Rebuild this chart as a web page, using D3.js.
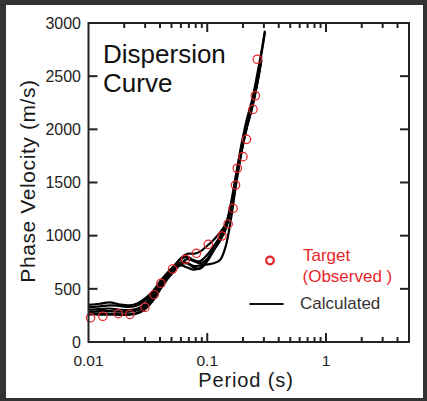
<!DOCTYPE html>
<html>
<head>
<meta charset="utf-8">
<script src="https://cdn.jsdelivr.net/npm/d3@7"></script>
<style>
  html, body { margin: 0; padding: 0; background: #333; }
  svg { display: block; }
</style>
</head>
<body>
<svg id="chart" width="427" height="401"></svg>
<script>
// Period grid shared by the calculated dispersion curves (s)
const periods = [0.01, 0.0125, 0.015, 0.018, 0.022, 0.026, 0.03, 0.035, 0.04, 0.046, 0.053, 0.06, 0.068, 0.077, 0.087, 0.1, 0.113, 0.128, 0.143, 0.158, 0.175, 0.195, 0.215, 0.24, 0.265, 0.285, 0.305];

// Calculated phase velocities (m/s), one array per model
const calcA = [350, 360, 372, 355, 345, 365, 410, 480, 570, 650, 720, 790, 830, 830, 850, 905, 960, 1030, 1110, 1300, 1580, 1870, 2090, 2290, 2530, 2720, 2920];
const calcB = [330, 335, 345, 340, 330, 345, 390, 460, 550, 640, 720, 780, 800, 770, 760, 820, 900, 990, 1090, 1280, 1560, 1850, 2060, 2260, 2500, 2700, 2900];
const calcC = [305, 310, 315, 305, 300, 315, 360, 440, 530, 620, 700, 750, 740, 700, 690, 760, 860, 970, 1070, 1260, 1540, 1820, 2040, 2240, 2480, 2680];
const calcD = [285, 290, 290, 285, 285, 300, 340, 420, 510, 610, 690, 720, 700, 680, 700, 780, 880, 980, 1080, 1270, 1530, 1810, 2030, 2230, 2460, 2660];
const calcE = [270, 268, 265, 262, 260, 275, 320, 400, 500, 600, 680, 730, 740, 715, 720, 730, 740, 770, 900, 1150, 1480, 1790, 2010, 2210, 2440, 2640];
const calcF = [260, 258, 257, 255, 256, 270, 310, 390, 490, 590, 670, 740, 780, 760, 740, 780, 860, 950, 1060, 1250, 1520, 1800, 2020, 2220, 2450, 2650];
const calculatedCurves = [calcA, calcB, calcC, calcD, calcE, calcF];

// Observed (target) dispersion points
const targetPeriods = [0.0104, 0.0132, 0.0178, 0.0223, 0.0299, 0.0357, 0.0407, 0.051, 0.0656, 0.081, 0.102, 0.133, 0.150, 0.165, 0.173, 0.179, 0.200, 0.214, 0.243, 0.254, 0.264];
const targetVelocities = [228, 242, 266, 260, 326, 445, 552, 686, 778, 834, 919, 997, 1110, 1257, 1476, 1634, 1743, 1906, 2188, 2316, 2659];

// Axis ticks
const yTickValues = [0, 500, 1000, 1500, 2000, 2500, 3000];
const xTickLabels = [0.01, 0.1, 1];
const xMinorTicks = [0.02, 0.03, 0.04, 0.05, 0.06, 0.07, 0.08, 0.09, 0.2, 0.3, 0.4, 0.5, 0.6, 0.7, 0.8, 0.9, 2, 3, 4];

const FONT = "'Liberation Sans', Arial, Helvetica, sans-serif";
const svg = d3.select("#chart");

// white panel
svg.append("rect").attr("x", 6).attr("y", 5).attr("width", 417).attr("height", 393).attr("fill", "#fff");

const plot = { left: 88.5, right: 409, top: 23, bottom: 342 };
const x = d3.scaleLog().domain([0.01, 5]).range([plot.left, plot.right]);
const y = d3.scaleLinear().domain([0, 3000]).range([plot.bottom, plot.top]);

svg.append("clipPath").attr("id", "plotClip")
  .append("rect").attr("x", plot.left).attr("y", plot.top)
  .attr("width", plot.right - plot.left).attr("height", plot.bottom - plot.top);

// calculated curves
const line = d3.line()
  .x((d, i) => x(periods[i]))
  .y(d => y(d))
  .curve(d3.curveCatmullRom.alpha(0.5));

svg.append("g").attr("clip-path", "url(#plotClip)")
  .selectAll("path").data(calculatedCurves).join("path")
  .attr("d", d => line(d))
  .attr("fill", "none").attr("stroke", "#000")
  .attr("stroke-width", 2.2).attr("stroke-linejoin", "round").attr("stroke-linecap", "round");

// observed points
svg.append("g").selectAll("circle").data(targetPeriods).join("circle")
  .attr("cx", d => x(d))
  .attr("cy", (d, i) => y(targetVelocities[i]))
  .attr("r", 4.2)
  .attr("fill", "none").attr("stroke", "#e8262a").attr("stroke-width", 1.2);

// frame and ticks
const axisColor = "#222";
const frame = svg.append("g").attr("stroke", axisColor).attr("fill", "none");
frame.append("rect").attr("x", plot.left).attr("y", plot.top)
  .attr("width", plot.right - plot.left).attr("height", plot.bottom - plot.top)
  .attr("stroke-width", 2);

const majorLen = 9, minorLen = 5;
yTickValues.slice(1, -1).forEach(v => {
  frame.append("line").attr("x1", plot.left).attr("x2", plot.left + majorLen)
    .attr("y1", y(v)).attr("y2", y(v)).attr("stroke-width", 2);
  frame.append("line").attr("x1", plot.right).attr("x2", plot.right - majorLen)
    .attr("y1", y(v)).attr("y2", y(v)).attr("stroke-width", 2);
});
xTickLabels.slice(1).forEach(p => {
  frame.append("line").attr("x1", x(p)).attr("x2", x(p))
    .attr("y1", plot.bottom).attr("y2", plot.bottom - majorLen).attr("stroke-width", 2);
  frame.append("line").attr("x1", x(p)).attr("x2", x(p))
    .attr("y1", plot.top).attr("y2", plot.top + majorLen).attr("stroke-width", 2);
});
xMinorTicks.forEach(p => {
  frame.append("line").attr("x1", x(p)).attr("x2", x(p))
    .attr("y1", plot.bottom).attr("y2", plot.bottom - minorLen).attr("stroke-width", 2);
  frame.append("line").attr("x1", x(p)).attr("x2", x(p))
    .attr("y1", plot.top).attr("y2", plot.top + minorLen).attr("stroke-width", 2);
});

// tick labels
const yFmt = d3.format("d");
svg.append("g").selectAll("text").data(yTickValues).join("text")
  .attr("x", 81).attr("y", d => y(d)).attr("dy", "0.36em")
  .attr("text-anchor", "end").attr("font-family", FONT).attr("font-size", 16)
  .attr("fill", "#222").text(d => yFmt(d));

svg.append("g").selectAll("text").data(xTickLabels).join("text")
  .attr("x", d => x(d)).attr("y", 365.5)
  .attr("text-anchor", "middle").attr("font-family", FONT).attr("font-size", 15.5)
  .attr("fill", "#222").text(d => d3.format("~g")(d));

// axis titles
svg.append("text").attr("x", 246).attr("y", 387)
  .attr("text-anchor", "middle").attr("font-family", FONT).attr("font-size", 20)
  .attr("letter-spacing", 0.9).attr("fill", "#1a1a1a").text("Period (s)");

svg.append("text").attr("transform", "translate(35,181) rotate(-90)")
  .attr("text-anchor", "middle").attr("font-family", FONT).attr("font-size", 21)
  .attr("letter-spacing", 0.6).attr("fill", "#1a1a1a").text("Phase Velocity (m/s)");

// chart title
const title = svg.append("text").attr("font-family", FONT).attr("font-size", 26).attr("fill", "#111");
title.append("tspan").attr("x", 103).attr("y", 63).text("Dispersion");
title.append("tspan").attr("x", 103).attr("y", 91.5).text("Curve");

// legend
svg.append("circle").attr("cx", 270).attr("cy", 260.5).attr("r", 3.8)
  .attr("fill", "none").attr("stroke", "#e8262a").attr("stroke-width", 2.3);
const lt = svg.append("text").attr("font-family", FONT).attr("font-size", 17).attr("fill", "#e8262a");
lt.append("tspan").attr("x", 303).attr("y", 260.5).text("Target");
lt.append("tspan").attr("x", 302.5).attr("y", 281.5).text("(Observed )");
svg.append("line").attr("x1", 249.5).attr("x2", 283.5).attr("y1", 304).attr("y2", 304)
  .attr("stroke", "#111").attr("stroke-width", 2.2);
svg.append("text").attr("x", 300).attr("y", 308.5).attr("font-family", FONT).attr("font-size", 17)
  .attr("fill", "#333").text("Calculated");
</script>
</body>
</html>
